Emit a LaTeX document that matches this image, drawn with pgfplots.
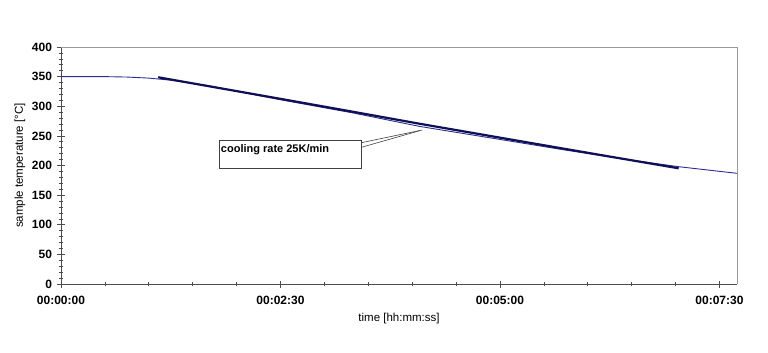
\documentclass[border=0pt]{standalone}
\usepackage{pgfplots}
\pgfplotsset{compat=1.18}
\usepackage{fontspec}
\setmainfont{Liberation Sans}
\definecolor{thinline}{RGB}{45,45,145}
\definecolor{thickline}{RGB}{15,15,85}
\begin{document}
\begin{tikzpicture}
\begin{axis}[
  at={(0,0)}, anchor=south west,
  scale only axis, width=676pt, height=237pt,
  xmin=0, xmax=462, ymin=0, ymax=400,
  clip=false,
  xtick={0,150,300,450},
  xticklabels={00:00:00,00:02:30,00:05:00,00:07:30},
  ytick={0,50,...,400},
  minor x tick num=4, minor y tick num=4,
  axis x line*=bottom, axis y line*=left,
  axis line style={black!70, line width=0.9pt, -},
  tick style={black!70, line width=0.6pt},
  tick align=center, major tick length=7pt, minor tick length=4pt,
  ticklabel style={font=\fontsize{12}{14}\selectfont\bfseries},
  xticklabel style={yshift=-5pt},
  yticklabel style={xshift=-2pt},
  /pgf/number format/assume math mode=true,
  xlabel={time [hh:mm:ss]},
  ylabel={sample temperature [°C]},
  label style={font=\fontsize{11.5}{14}\selectfont},
  xlabel style={at={(axis description cs:0.5,-0.1477)}, anchor=center},
  ylabel style={at={(axis description cs:-0.0607,0.5)}, anchor=center},
]
\draw[black!40, line width=0.8pt] (rel axis cs:0,1) -- (rel axis cs:1,1) -- (rel axis cs:1,0);
\addplot[thinline, line width=0.9pt] coordinates {
 (0,350) (30,350) (45,349.3) (60,347.5) (75,344) (100,335) (150,311)
 (200,288.5) (245,266) (300,244) (341,227.5) (380,212.5) (422,198) (462,186.8)
};
\addplot[thickline, line width=2.2pt] coordinates {
 (66.4,348.9) (150,312.5) (200,290.5) (245,270.5) (300,247) (341,229.5) (380,213) (422.1,195.3)
};
\draw[black!75, line width=0.7pt, fill=white] (axis cs:108,242) rectangle (axis cs:205.3,195.3);
\draw[black!75, line width=0.6pt] (axis cs:205.3,238.5) -- (axis cs:246.9,259.9);
\draw[black!75, line width=0.6pt] (axis cs:205.3,230.7) -- (axis cs:245.1,258.7);
\node[anchor=west, inner sep=0pt, font=\fontsize{11}{13}\selectfont\bfseries] at (axis cs:109.2,226) {cooling rate 25K/min};
\end{axis}
\pgfresetboundingbox
\useasboundingbox (-61pt,-69pt) rectangle (707pt,284pt);
\end{tikzpicture}
\end{document}
